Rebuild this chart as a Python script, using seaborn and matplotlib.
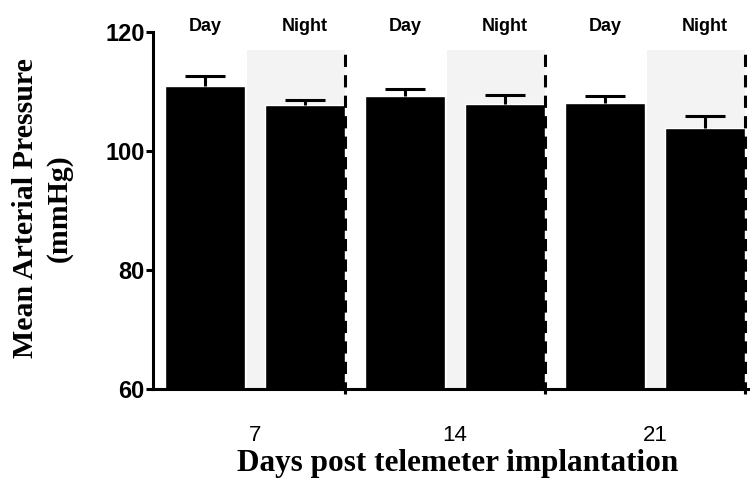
import numpy as np
import pandas as pd
import matplotlib
matplotlib.use("Agg")
from matplotlib import pyplot as plt
import seaborn as sns

# data
days = ['7', '14', '21']
periods = ['Day', 'Night']
map_mean = [110.9, 107.7, 109.2, 107.85, 108.0, 103.8]
map_sem = [1.65, 0.9, 1.3, 1.6, 1.2, 2.0]

sns.set_style('ticks', {'axes.edgecolor': 'black', 'text.color': 'black',
                        'xtick.color': 'black', 'ytick.color': 'black'})
plt.rcParams['font.family'] = ['Liberation Sans', 'DejaVu Sans']

df = pd.DataFrame({
    'bar': [d + ' ' + p for d in days for p in periods],
    'period': [p for d in days for p in periods],
    'map': map_mean,
})

fig = plt.figure(figsize=(7.52, 4.94), dpi=100)
ax = fig.add_axes([153/752, 1 - 389/494, (748 - 153)/752, (389 - 32)/494])

lw = 2.2
pos = np.arange(len(df))

# night shading + dashed separators
for i in pos[df['period'] == 'Night']:
    ax.fill_between([i - 0.58, i + 0.4], 60, 117, color='#f2f3f2', zorder=0, lw=0)
    ax.plot([i + 0.4, i + 0.4], [59.2, 117], color='black', lw=lw,
            linestyle=(0, (4, 2.7)), zorder=4, clip_on=False)

sns.barplot(data=df, x='bar', y='map', color='black', errorbar=None,
            width=0.8, saturation=1, ax=ax, zorder=2)

# one-sided SEM bars (drop the lower cap)
eb = ax.errorbar(pos, df['map'], yerr=[np.zeros(len(df)), map_sem], fmt='none',
                 ecolor='black', elinewidth=lw, capsize=14.4, capthick=lw, zorder=3)
eb[1][0].remove()

ax.set_ylim(60, 120)
ax.set_xlim(-0.52, 5.43)
ax.set_yticks([60, 80, 100, 120])
ax.set_yticklabels(['60', '80', '100', '120'], fontsize=17, fontweight='bold')
ax.set_xticks([0.5, 2.5, 4.5])
ax.set_xticklabels(days, fontsize=16)
ax.set_xticks([1.4, 3.4, 5.4], minor=True)
ax.tick_params(axis='x', which='major', length=0, pad=26)
ax.tick_params(axis='x', which='minor', length=3, width=lw)
ax.tick_params(axis='y', length=5, width=lw, pad=1)
ax.set_xlabel('')
ax.set_ylabel('')
for s in ['left', 'bottom']:
    ax.spines[s].set_linewidth(lw)
sns.despine(ax=ax)

for i, p in zip(pos, df['period']):
    ax.text(i, 121.0, p, ha='center', va='center', fontsize=13,
            fontweight='bold', clip_on=False)

fig.text(42/752, 1 - 208/494, 'Mean Arterial Pressure\n(mmHg)', rotation=90,
         ha='center', va='center', multialignment='center', linespacing=1.3,
         fontsize=21.5, fontweight='bold', family=['Liberation Serif', 'DejaVu Serif'])
fig.text(458/752, 1 - 463/494, 'Days post telemeter implantation', ha='center',
         va='center', fontsize=22.5, fontweight='bold',
         family=['Liberation Serif', 'DejaVu Serif'])

fig.savefig('out.png', dpi=100)
